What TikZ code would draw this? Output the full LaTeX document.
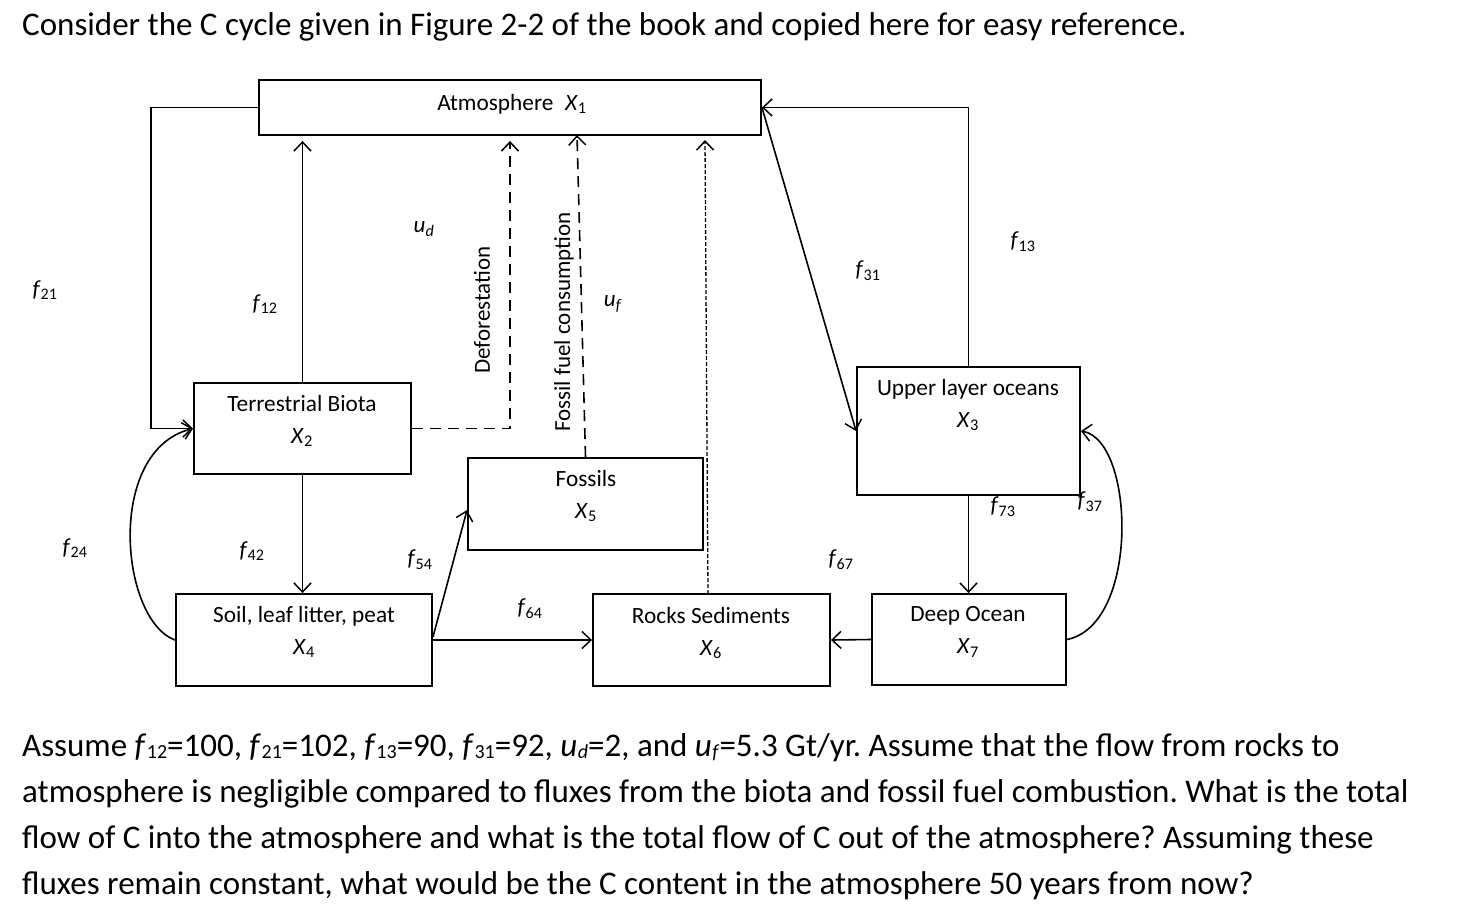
\documentclass[tikz,border=0pt]{standalone}
\usepackage{fontspec}
\setmainfont{Carlito}
\usetikzlibrary{arrows.meta,calc}
\newcommand{\va}[2]{\textit{#1}\textsubscript{#2}}
\newcommand{\vq}[2]{\textit{#1}\kern0.5pt\raisebox{-2.5pt}{\fontsize{20}{20}\selectfont #2}}
\frenchspacing
\begin{document}
\begin{tikzpicture}[x=1pt,y=-1pt,
  box/.style={draw,line width=1.9pt,inner sep=0pt},
  btext/.style={align=center,font=\fontsize{23.3}{32}\selectfont,inner sep=0pt},
  lab/.style={font=\fontsize{23}{28}\selectfont,inner sep=0pt},
  arr/.style={line width=1.6pt,-{Straight Barb[length=9pt,width=17pt,line width=1.5pt]}},
  longdash/.style={dash pattern=on 11pt off 7pt},
  finedash/.style={dash pattern=on 4pt off 2pt},
  para/.style={anchor=base west,font=\fontsize{33}{40}\selectfont,inner sep=0pt}]
\useasboundingbox (0,0) rectangle (1470,922);
\fill[white] (0,0) rectangle (1470,922);

% title
\node[para] (title) at (22,35) {Consider the C cycle given in Figure 2-2 of the book and copied here for easy reference.};

% boxes
\node[box,minimum width=502pt,minimum height=55pt] (atm) at (510,107.5) {};
\node[box,minimum width=217pt,minimum height=91pt] (tb) at (302.5,428.5) {};
\node[box,minimum width=256pt,minimum height=92pt] (soil) at (304,640) {};
\node[box,minimum width=235pt,minimum height=92pt] (fos) at (585.5,504) {};
\node[box,minimum width=237pt,minimum height=92pt] (rock) at (711.5,640) {};
\node[box,minimum width=223pt,minimum height=128pt] (upo) at (968.5,431) {};
\node[box,minimum width=194pt,minimum height=91pt] (deep) at (969,639.5) {};

% box texts
\node[btext] (atmt) at (512,104) {Atmosphere\enspace\va{X}{1}};
\node[btext] (tbt) at (302,421) {Terrestrial Biota\\\va{X}{2}};
\node[btext] (soilt) at (304,632) {Soil, leaf litter, peat\\\va{X}{4}};
\node[btext] (fost) at (586,496) {Fossils\\\va{X}{5}};
\node[btext] (rockt) at (711,633) {Rocks Sediments\\\va{X}{6}};
\node[btext] (upot) at (968,405) {Upper layer oceans\\\va{X}{3}};
\node[btext] (deept) at (968,632) {Deep Ocean\\\va{X}{7}};

% connectors
\draw[arr] (atm.west) -- ++(-107,0) |- (tb.west);
\draw[arr,shorten >=5pt] (tb.north) -- (tb.north |- atm.south);
\draw[arr,longdash,shorten >=5pt] (tb.east) -| (atm.south);
\coordinate (ffend) at (577,135);
\draw[arr,longdash] (fos.north) -- (ffend);
\coordinate (rkstart) at (708,594);
\coordinate (rkend) at (705,140);
\draw[arr,finedash,line width=1.3pt] (rkstart) -- (rkend);
\draw[arr] (atm.east) -- (upo.west);
\draw[arr] (upo.north) |- (atm.east);
\draw[arr] (tb.south) -- (tb.south |- soil.north);
\draw[arr] (soil.west) .. controls (120,620) and (105,450) .. (tb.west);
\draw[arr] ($(soil.east)+(0,-3)$) -- ($(fos.west)+(0,6)$);
\draw[arr] (soil.east) -- (rock.west);
\draw[arr] (deep.west) -- (rock.east);
\draw[arr] (upo.south) -- (upo.south |- deep.north);
\draw[arr] (deep.east) .. controls (1140,625) and (1135,440) .. (upo.east);

% flux labels
\node[lab] (l21) at (45,290) {\va{f}{21}};
\node[lab] (l12) at (265,304) {\va{f}{12}};
\node[lab] (lud) at (424,229) {\va{u}{\textit{d}}};
\node[lab] (luf) at (613,304) {\va{u}{\textit{f}}};
\node[lab] (l31) at (868,271) {\va{f}{31}};
\node[lab] (l13) at (1023,242) {\va{f}{13}};
\node[lab] (l24) at (75,548) {\va{f}{24}};
\node[lab] (l42) at (252,551) {\va{f}{42}};
\node[lab] (l54) at (420,560) {\va{f}{54}};
\node[lab] (l64) at (530,609) {\va{f}{64}};
\node[lab] (l67) at (841,560) {\va{f}{67}};
\node[lab] (l73) at (1003,507) {\va{f}{73}};
\node[lab] (l37) at (1090,502) {\va{f}{37}};
\node[lab,rotate=90] (ldef) at (482,310) {Deforestation};
\node[lab,rotate=90] (lffc) at (564,322) {Fossil fuel consumption};

% question text
\node[para] (q1) at (22,756) {Assume \vq{f}{12}=100, \vq{f}{21}=102, \vq{f}{13}=90, \vq{f}{31}=92, \vq{u}{\textit{d}}=2, and \vq{u}{\textit{f}}=5.3 Gt/yr. Assume that the flow from rocks to};
\node[para] (q2) at (22,802) {atmosphere is negligible compared to fluxes from the biota and fossil fuel combustion. What is the total};
\node[para] (q3) at (22,848) {flow of C into the atmosphere and what is the total flow of C out of the atmosphere? Assuming these};
\node[para] (q4) at (22,894) {fluxes remain constant, what would be the C content in the atmosphere 50 years from now?};
\end{tikzpicture}
\end{document}
